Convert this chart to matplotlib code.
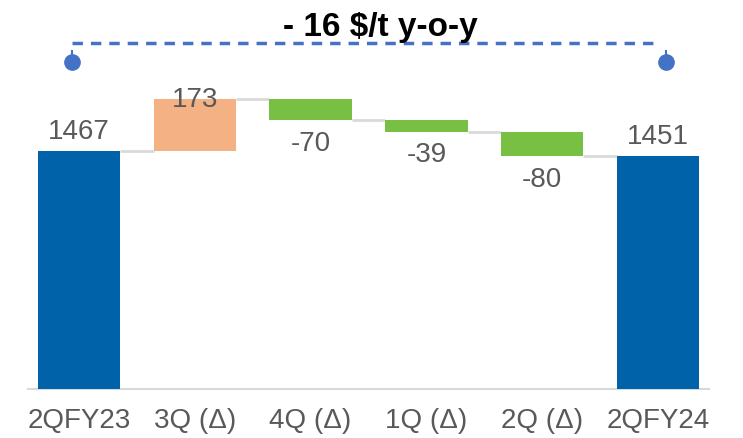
import matplotlib
matplotlib.use("Agg")
import matplotlib.pyplot as plt

# Dados
CATEGORIAS = ["2QFY23", "3Q (Δ)", "4Q (Δ)", "1Q (Δ)", "2Q (Δ)", "2QFY24"]
VALORES = [1467, 173, -70, -39, -80, 1451]
TIPOS = ["total", "delta", "delta", "delta", "delta", "total"]
TITULO = "- 16 $/t y-o-y"

# Cores
AZUL = "#0063A9"
LARANJA = "#F4B183"
VERDE = "#78C043"
CINZA_TXT = "#595959"
CINZA_LINHA = "#D9D9D9"
AZUL_ANOT = "#4472C4"

plt.rcParams["font.family"] = ["Liberation Sans", "DejaVu Sans"]

fig = plt.figure(figsize=(7.43, 4.39), dpi=100)
ax = fig.add_axes([28 / 743, 1 - 390 / 439, 681 / 743, 390 / 439])

largura = 0.71
acum = 0
niveis = []
for i, (v, t) in enumerate(zip(VALORES, TIPOS)):
    if t == "total":
        base, altura, cor = 0, v, AZUL
        acum = v
    else:
        cor = LARANJA if v > 0 else VERDE
        base = acum if v > 0 else acum + v
        altura = abs(v)
        acum = acum + v
    ax.bar(i, altura, bottom=base, width=largura, color=cor, zorder=3)
    niveis.append(acum)

    # rotulos
    if t == "total":
        ax.annotate(str(v), (i, v), xytext=(0, 5), textcoords="offset points",
                    ha="center", va="bottom", fontsize=20, color=CINZA_TXT)
    elif v > 0:
        ax.text(i, base + altura, str(v), ha="center", va="center",
                fontsize=20, color=CINZA_TXT, zorder=4)
    else:
        ax.annotate(str(v), (i, base), xytext=(0, -7), textcoords="offset points",
                    ha="center", va="top", fontsize=20, color=CINZA_TXT)

# conectores
for i in range(len(VALORES) - 1):
    ax.plot([i + largura / 2, i + 1 - largura / 2], [niveis[i], niveis[i]],
            color=CINZA_LINHA, lw=2, zorder=2, solid_capstyle="butt")

ax.set_xlim(-0.44, 5.44)
ax.set_ylim(678, 1971)
ax.set_xticks(range(len(CATEGORIAS)))
ax.set_xticklabels(CATEGORIAS, fontsize=20, color=CINZA_TXT)
ax.tick_params(axis="x", length=0, pad=13)
ax.set_yticks([])
for s in ["top", "left", "right"]:
    ax.spines[s].set_visible(False)
ax.spines["bottom"].set_color(CINZA_LINHA)
ax.spines["bottom"].set_linewidth(1.5)

# anotacao y-o-y
ax.plot([-0.06, 5.02], [1825, 1825], color=AZUL_ANOT, lw=2.5,
        dashes=(3, 2.3), clip_on=False)
for xd in [-0.06, 5.07]:
    ax.plot([xd, xd], [1762, 1797], color=AZUL_ANOT, lw=1.5, clip_on=False)
    ax.plot(xd, 1762, "o", ms=11, color=AZUL_ANOT, clip_on=False)
ax.text(2.6, 1852, TITULO, ha="center", va="baseline", fontsize=24,
        fontweight="bold", color="black")

fig.savefig("out.png", dpi=100)
